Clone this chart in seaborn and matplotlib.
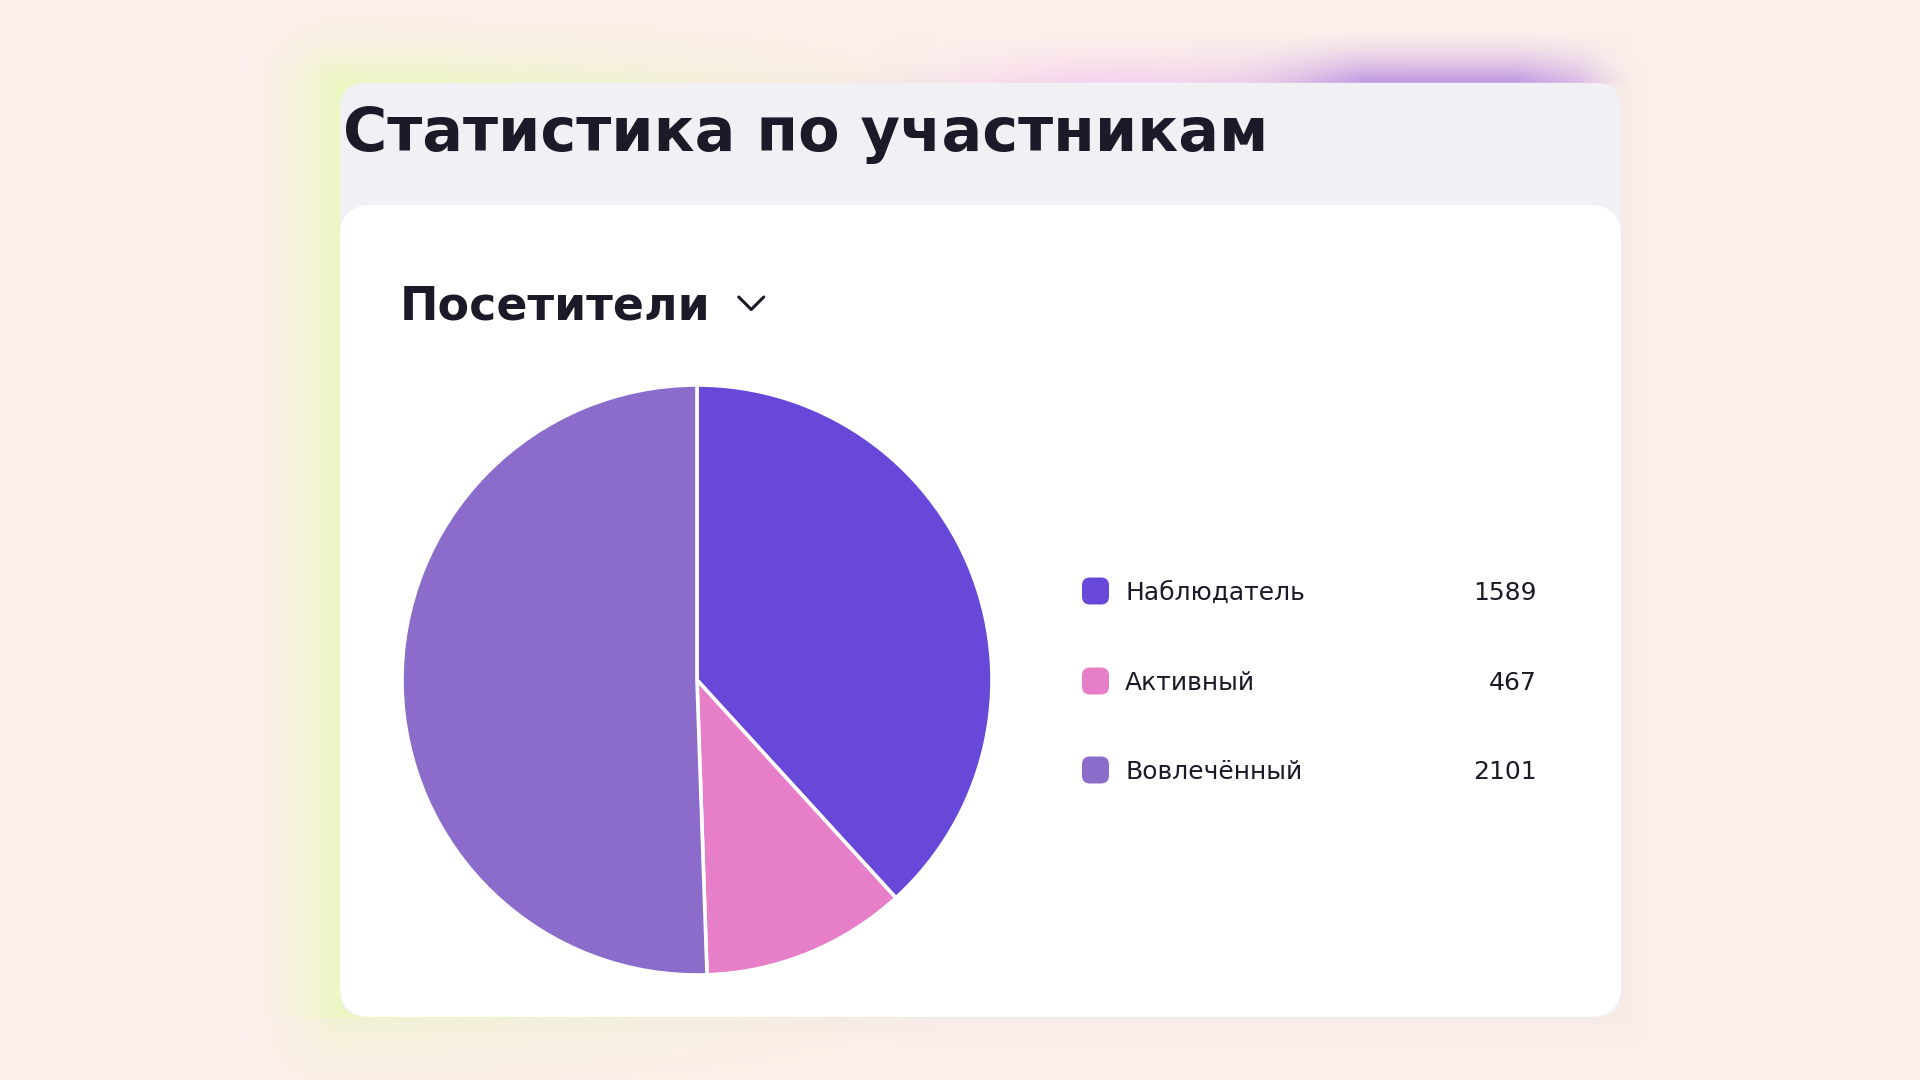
import numpy as np
import matplotlib
matplotlib.use("Agg")
import matplotlib.pyplot as plt
import seaborn as sns
from matplotlib.patches import FancyBboxPatch

# data
title = "Статистика по участникам"
subtitle = "Посетители"
categories = ["Наблюдатель", "Активный", "Вовлечённый"]
counts = [1589, 467, 2101]
colors = ["#6748D8", "#E67EC8", "#8B6CCA"]

sns.set_theme(style="white")
plt.rcParams["font.family"] = ["DejaVu Sans"]

W, H = 1920, 1080
fig = plt.figure(figsize=(W / 100, H / 100), dpi=100)

# background with glows, drawn in pixel coords
bg = fig.add_axes([0, 0, 1, 1])
bg.set_xlim(0, W)
bg.set_ylim(H, 0)
bg.axis("off")

x0, x1, y0, y1 = 340, 1621, 83, 1017
yy, xx = np.mgrid[0:H, 0:W].astype(float)
dx = np.maximum(np.maximum(x0 - xx, xx - x1), 0)
dy = np.maximum(np.maximum(y0 - yy, yy - y1), 0)
d = np.hypot(dx, dy)

img = np.ones((H, W, 3)) * np.array([252, 239, 235]) / 255.0


def blend(img, color, a):
    c = np.array(color) / 255.0
    a = np.clip(a, 0, 1)[..., None]
    return img * (1 - a) + c * a


def fall(dist, length):
    return np.clip(1 - dist / length, 0, 1) ** 1.6


# soft shadow around card
img = blend(img, (240, 226, 226), 0.45 * fall(d, 30))
# yellow-green glow on the left / top-left
w_yel = np.clip(1 - (xx - 340) / 600, 0, 1) * np.clip((yy + 30) / 110, 0, 1)
w_yel *= np.where(yy > y1, 0.55, 1.0)
img = blend(img, (236, 248, 194), 1.0 * fall(d, 95) * w_yel)
# pink and purple glows along the top edge
above = np.clip((y0 + 2 - yy) / 4, 0, 1) * np.clip((x1 + 10 - xx) / 50, 0, 1)
w_pink = np.exp(-((xx - 1110) / 140) ** 2) * above
img = blend(img, (246, 206, 240), 0.85 * fall(d, 55) * w_pink)
w_pur = np.clip(np.exp(-((xx - 1440) / 150) ** 2) * 1.3, 0, 1) * above
img = blend(img, (192, 150, 228), 1.0 * fall(d, 55) * w_pur)

bg.imshow(img, extent=[0, W, H, 0], aspect="auto", zorder=0)

# cards
bg.add_patch(FancyBboxPatch((x0, y0), x1 - x0, y1 - y0,
                            boxstyle="round,pad=0,rounding_size=26",
                            fc="#F1F0F5", ec="none", zorder=1))
bg.add_patch(FancyBboxPatch((x0, 205), x1 - x0, y1 - 205,
                            boxstyle="round,pad=0,rounding_size=32",
                            fc="white", ec="none", zorder=2))

ink = "#1C1A28"
bg.text(343, 151, title, fontsize=43.5, fontweight="bold",
        color=ink, va="baseline", ha="left", zorder=3)
sub = bg.text(400, 320, subtitle, fontsize=33, fontweight="bold",
              color=ink, va="baseline", ha="left", zorder=3)

# legend rows
row_y = [591, 681, 770]
for name, val, col, cy in zip(categories, counts, colors, row_y):
    bg.add_patch(FancyBboxPatch((1082, cy - 13.5), 27, 27,
                                boxstyle="round,pad=0,rounding_size=8",
                                fc=col, ec="none", zorder=3))
    bg.text(1125, cy + 9, name, fontsize=18,
            color=ink, va="baseline", ha="left", zorder=3)
    bg.text(1537, cy + 9, str(val), fontsize=18,
            color=ink, va="baseline", ha="right", zorder=3)

# chevron placed right after the dropdown label
fig.canvas.draw()
ext = sub.get_window_extent()
cx0 = ext.x1 + 28
bg.plot([cx0, cx0 + 12.5, cx0 + 25], [297, 309.5, 297], color=ink,
        lw=2.2, solid_capstyle="round", solid_joinstyle="round", zorder=3)

# pie
cx, cy, r = 697, 680, 295
pax = fig.add_axes([(cx - r) / W, (H - cy - r) / H, 2 * r / W, 2 * r / H])
pax.pie(counts, colors=colors, startangle=90, counterclock=False,
        wedgeprops=dict(edgecolor="white", linewidth=2.6))
pax.set_xlim(-1, 1)
pax.set_ylim(-1, 1)
pax.set_aspect("equal")
pax.set_zorder(5)
pax.patch.set_alpha(0)

fig.savefig("out.png", dpi=100)
